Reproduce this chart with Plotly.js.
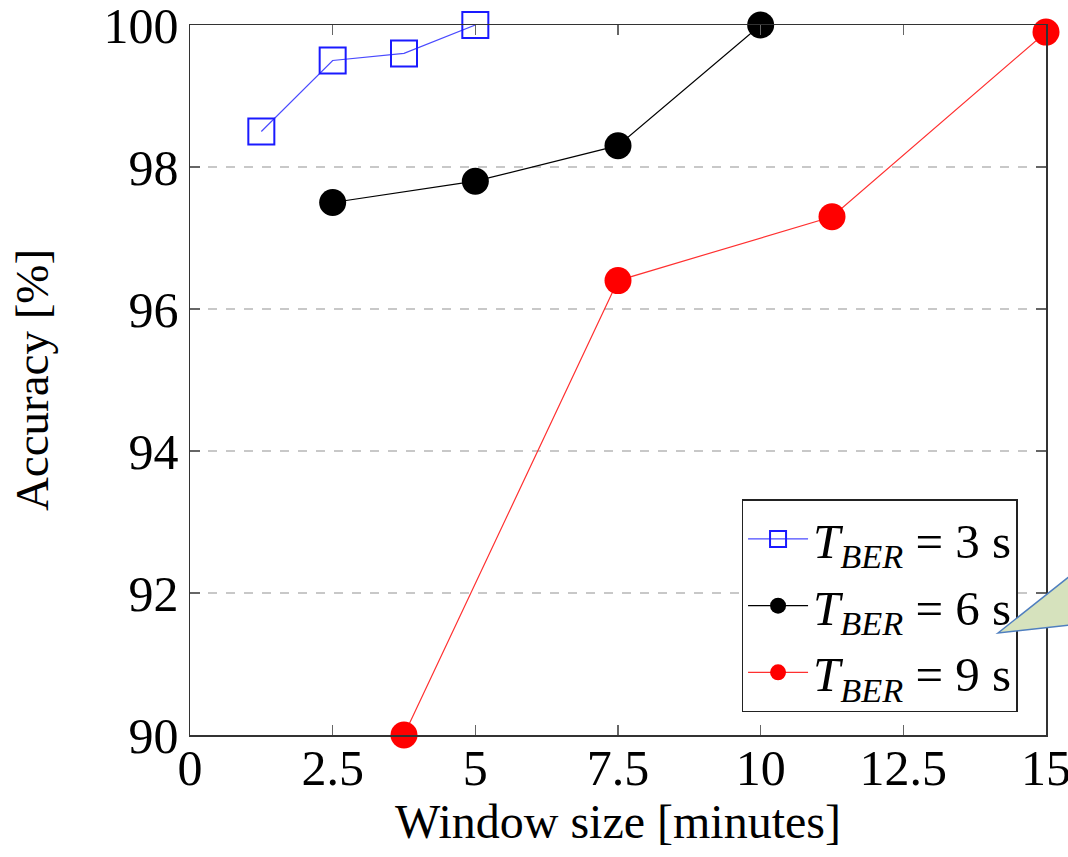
<!DOCTYPE html>
<html><head><meta charset="utf-8">
<script src="https://cdn.plot.ly/plotly-3.0.1.min.js"></script>
<style>html,body{margin:0;padding:0;background:#fff}#wrap{position:relative;width:1068px;height:857px}#c{width:1068px;height:857px}#callout{position:absolute;left:0;top:0;pointer-events:none}</style>
</head><body><div id="wrap"><div id="c"></div>
<svg id="callout" width="1068" height="857"><path d="M 998 633 L 1080 568 L 1080 624 Z" fill="#d6e2bd" stroke="#4f7fbf" stroke-width="1.5"/></svg></div>
<script>
const x3 = [1.25, 2.5, 3.75, 5];
const y3 = [98.5, 99.5, 99.6, 100];
const x6 = [2.5, 5, 7.5, 10];
const y6 = [97.5, 97.8, 98.3, 100];
const x9 = [3.75, 7.5, 11.25, 15];
const y9 = [90, 96.4, 97.3, 99.9];
const names = ['<i>T</i><sub><i>BER</i></sub> = 3 s', '<i>T</i><sub><i>BER</i></sub> = 6 s', '<i>T</i><sub><i>BER</i></sub> = 9 s'];
const xTicks = [0, 2.5, 5, 7.5, 10, 12.5, 15];
const yTicks = [90, 92, 94, 96, 98, 100];

const font = {family: '"Liberation Serif", "DejaVu Serif", serif', color: '#000'};
const traces = [
  {x: x3, y: y3, name: names[0], mode: 'lines+markers', cliponaxis: false,
   line: {color: '#4a4aff', width: 1.2},
   marker: {symbol: 'square-open', size: 26, color: '#1a1aff', line: {width: 2, color: '#1a1aff'}}},
  {x: x6, y: y6, name: names[1], mode: 'lines+markers', cliponaxis: false,
   line: {color: '#000', width: 1.2},
   marker: {symbol: 'circle', size: 27, color: '#000'}},
  {x: x9, y: y9, name: names[2], mode: 'lines+markers', cliponaxis: false,
   line: {color: '#ff3030', width: 1.2},
   marker: {symbol: 'circle', size: 27, color: '#ff0000'}}
];
const axBase = {
  showline: true, linecolor: '#333', linewidth: 1.5, mirror: 'ticks',
  ticks: 'inside', ticklen: 10, tickcolor: '#666', tickwidth: 1.3,
  zeroline: false, ticklabeloverflow: 'allow', tickfont: Object.assign({size: 50}, font)
};
const layout = {
  width: 1068, height: 857,
  margin: {l: 190, r: 22, t: 25, b: 122},
  paper_bgcolor: '#fff', plot_bgcolor: '#fff',
  font: font,
  showlegend: true,
  legend: {x: 0.967, y: 0.032, xanchor: 'right', yanchor: 'bottom',
    bordercolor: '#222', borderwidth: 1.3, bgcolor: '#fff', itemwidth: 60,
    font: Object.assign({size: 49}, font), tracegroupgap: 0},
  xaxis: Object.assign({}, axBase, {range: [0, 15], tickvals: xTicks, ticktext: xTicks.map(String),
    showgrid: false, ticklabelstandoff: -12,
    title: {text: 'Window size [minutes]', font: Object.assign({size: 48}, font), standoff: 8}}),
  yaxis: Object.assign({}, axBase, {range: [90, 100], tickvals: yTicks, ticktext: yTicks.map(String),
    showgrid: true, gridcolor: '#c8c8c8', griddash: 'dash', gridwidth: 1.3,
    title: {text: 'Accuracy [%]', font: Object.assign({size: 47}, font), standoff: 40}})
};
Plotly.newPlot('c', traces, layout, {displayModeBar: false, staticPlot: true});
</script></body></html>
